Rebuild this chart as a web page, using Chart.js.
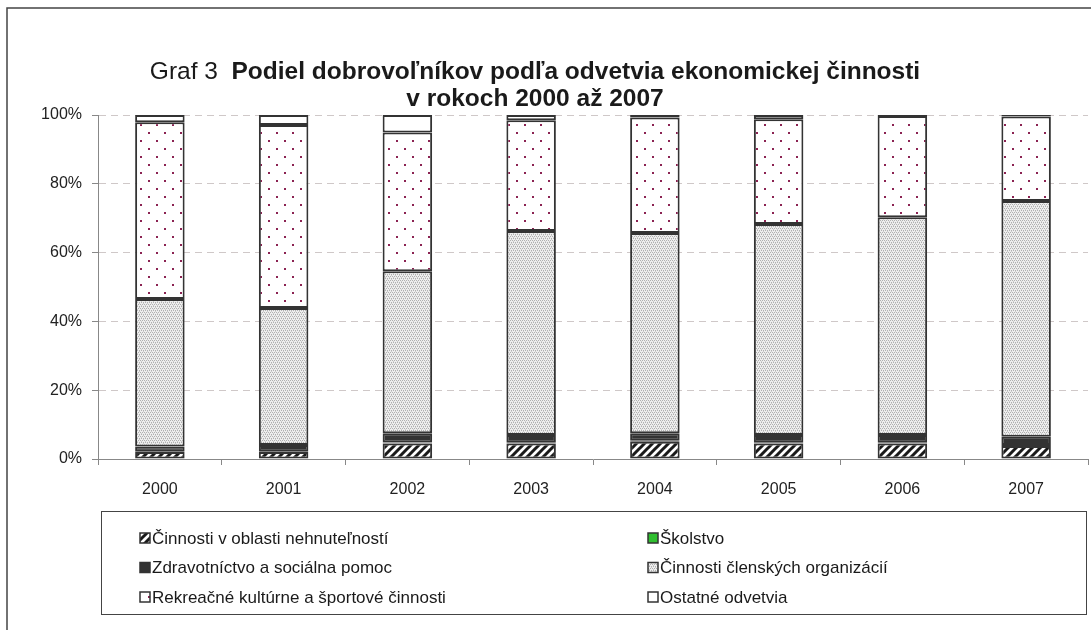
<!DOCTYPE html>
<html>
<head>
<meta charset="utf-8">
<script src="https://cdn.jsdelivr.net/npm/chart.js@4/dist/chart.umd.min.js"></script>
<style>
    body { margin: 0; background: #fff; }
    .wrap { position: relative; width: 1091px; height: 630px; }
</style>
</head>
<body>
<div class="wrap"><canvas id="chart" width="1091" height="630"></canvas></div>
<script>
const years = ['2000', '2001', '2002', '2003', '2004', '2005', '2006', '2007'];
const nehnutelnosti = [2.0, 2.0, 4.5, 4.5, 5.0, 4.5, 4.5, 3.8];
const skolstvo = [0.1, 0.1, 0.3, 0.2, 0.3, 0.2, 0.2, 0.3];
const zdravotnictvo = [1.5, 2.0, 2.7, 2.3, 2.2, 2.3, 2.3, 2.4];
const clenske = [42.9, 39.8, 47.1, 59.3, 58.2, 61.3, 63.3, 68.5];
const rekreacne = [51.4, 53.2, 40.3, 32.2, 33.6, 30.5, 29.4, 24.6];
const ostatne = [2.1, 2.9, 5.1, 1.5, 0.7, 1.2, 0.3, 0.4];
const yTicks = [0, 20, 40, 60, 80, 100];

const font = "'Liberation Sans', Arial, sans-serif";

// small tiles for the hatched / dotted fills
function tile(w, h, draw) {
    const c = document.createElement('canvas');
    c.width = w; c.height = h;
    const g = c.getContext('2d');
    draw(g);
    return document.getElementById('chart').getContext('2d').createPattern(c, 'repeat');
}
const hatch = tile(8, 8, g => {
    g.fillStyle = '#fff'; g.fillRect(0, 0, 8, 8);
    g.strokeStyle = '#1a1a1a'; g.lineWidth = 3;
    g.beginPath();
    g.moveTo(-2, 10); g.lineTo(10, -2);
    g.moveTo(-6, 6); g.lineTo(6, -6);
    g.moveTo(2, 14); g.lineTo(14, 2);
    g.stroke();
});
const grey = tile(4, 4, g => {
    g.fillStyle = '#eeeeee'; g.fillRect(0, 0, 4, 4);
    g.fillStyle = '#b0b0b0';
    g.fillRect(0, 0, 1, 1); g.fillRect(2, 0, 1, 1);
    g.fillRect(1, 2, 1, 1); g.fillRect(3, 2, 1, 1);
    g.fillStyle = '#cccccc';
    g.fillRect(1, 1, 1, 1); g.fillRect(3, 3, 1, 1);
});
const dots = tile(16, 16, g => {
    g.fillStyle = '#fff'; g.fillRect(0, 0, 16, 16);
    g.fillStyle = '#8b2252';
    g.fillRect(4, 4, 2, 2); g.fillRect(12, 12, 2, 2);
});

const seriesNames = [
    'Činnosti v oblasti nehnuteľností',
    'Školstvo',
    'Zdravotníctvo a sociálna pomoc',
    'Činnosti členských organizácií',
    'Rekreačné kultúrne a športové činnosti',
    'Ostatné odvetvia'
];
const seriesData = [nehnutelnosti, skolstvo, zdravotnictvo, clenske, rekreacne, ostatne];
const seriesFill = [hatch, '#2fbf2f', '#333333', grey, dots, '#ffffff'];

const datasets = seriesNames.map((name, i) => ({
    label: name,
    data: seriesData[i],
    backgroundColor: seriesFill[i],
    borderColor: '#333333',
    borderWidth: 2,
    borderSkipped: false,
    categoryPercentage: 1,
    barPercentage: 0.4
}));

const frameAndTitle = {
    id: 'frameAndTitle',
    beforeDraw(chart) {
        const ctx = chart.ctx;
        ctx.save();
        ctx.strokeStyle = '#444';
        ctx.lineWidth = 1.5;
        ctx.beginPath();
        ctx.moveTo(7, 640); ctx.lineTo(7, 8); ctx.lineTo(1100, 8);
        ctx.stroke();
        ctx.fillStyle = '#1a1a1a';
        ctx.textBaseline = 'middle';
        const a = 'Graf 3  ', b = 'Podiel dobrovoľníkov podľa odvetvia ekonomickej činnosti';
        ctx.font = '24.5px ' + font;
        const wa = ctx.measureText(a).width;
        ctx.font = 'bold 24.5px ' + font;
        const wb = ctx.measureText(b).width;
        let x = 535 - (wa + wb) / 2;
        ctx.font = '24.5px ' + font;
        ctx.fillText(a, x, 72);
        ctx.font = 'bold 24.5px ' + font;
        ctx.fillText(b, x + wa, 72);
        ctx.textAlign = 'center';
        ctx.fillText('v rokoch 2000 až 2007', 535, 99);
        ctx.restore();
    },
    afterDraw(chart) {
        const ctx = chart.ctx;
        ctx.save();
        ctx.strokeStyle = '#444';
        ctx.lineWidth = 1;
        ctx.strokeRect(101.5, 511.5, 985, 103);
        ctx.font = '17px ' + font;
        ctx.textBaseline = 'middle';
        chart.data.datasets.forEach((ds, i) => {
            const col = i % 2, row = Math.floor(i / 2);
            const x = col ? 648 : 140, y = 538 + row * 29.5;
            ctx.fillStyle = ds.backgroundColor;
            ctx.fillRect(x, y - 5, 10, 10);
            ctx.strokeStyle = '#333';
            ctx.lineWidth = 1.5;
            ctx.strokeRect(x, y - 5, 10, 10);
            ctx.fillStyle = '#1a1a1a';
            ctx.fillText(ds.label, x + 12, y + 1);
        });
        ctx.restore();
    }
};

new Chart(document.getElementById('chart'), {
    type: 'bar',
    data: { labels: years, datasets },
    options: {
        responsive: false,
        animation: false,
        layout: { padding: { top: 115, right: 3, left: 0, bottom: 0 } },
        plugins: { legend: { display: false }, tooltip: { enabled: false } },
        scales: {
            x: {
                stacked: true,
                afterFit: s => { s.height = 171; },
                grid: { drawOnChartArea: false, tickLength: 6, tickColor: '#888', offset: true },
                border: { color: '#888', width: 1 },
                ticks: { color: '#222', font: { family: font, size: 16 }, padding: 15 }
            },
            y: {
                stacked: true,
                min: 0,
                max: 100,
                afterFit: s => { s.width = 98; },
                afterBuildTicks: s => { s.ticks = yTicks.map(v => ({ value: v })); },
                grid: {
                    color: c => c.tick && c.tick.value === 0 ? 'rgba(0,0,0,0)' : '#cfc8c8',
                    tickColor: '#888',
                    tickLength: 6
                },
                border: { color: '#888', width: 1, dash: [7, 5] },
                ticks: { color: '#222', font: { family: font, size: 16 }, padding: 10, callback: v => v + '%' }
            }
        }
    },
    plugins: [frameAndTitle]
});
</script>
</body>
</html>
